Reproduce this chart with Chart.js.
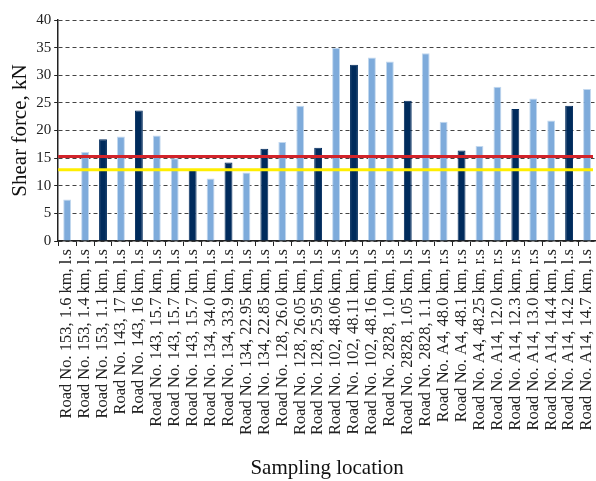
<!DOCTYPE html>
<html>
<head>
<meta charset="utf-8">
<script src="https://cdn.jsdelivr.net/npm/chart.js@4"></script>
<style>
  html, body { margin: 0; padding: 0; background: #fff; }
  #wrap { width: 596px; height: 481px; }
</style>
</head>
<body>
<div id="wrap"><canvas id="myChart"></canvas></div>
<script>
// sampling locations (x axis)
const locations = [
  'Road No. 153, 1.6 km, l.s', 'Road No. 153, 1.4 km, l.s', 'Road No. 153, 1.1 km, l.s',
  'Road No. 143, 17 km, l.s', 'Road No. 143, 16 km, l.s', 'Road No. 143, 15.7 km, l.s',
  'Road No. 143, 15.7 km, l.s', 'Road No. 143, 15.7 km, l.s', 'Road No. 134, 34.0 km, l.s',
  'Road No. 134, 33.9 km, l.s', 'Road No. 134, 22.95 km, l.s', 'Road No. 134, 22.85 km, l.s',
  'Road No. 128, 26.0 km, l.s', 'Road No. 128, 26.05 km, l.s', 'Road No. 128, 25.95 km, l.s',
  'Road No. 102, 48.06 km, l.s', 'Road No. 102, 48.11 km, l.s', 'Road No. 102, 48.16 km, l.s',
  'Road No. 2828, 1.0 km, l.s', 'Road No. 2828, 1.05 km, l.s', 'Road No. 2828, 1.1 km, l.s',
  'Road No. A4, 48.0 km, r.s', 'Road No. A4, 48.1 km, r.s', 'Road No. A4, 48.25 km, r.s',
  'Road No. A14, 12.0 km, r.s', 'Road No. A14, 12.3 km, r.s', 'Road No. A14, 13.0 km, r.s',
  'Road No. A14, 14.4 km, l.s', 'Road No. A14, 14.2 km, l.s', 'Road No. A14, 14.7 km, l.s'
];

// shear force, kN
const shearForce = [
  7.5, 16.1, 18.4, 18.9, 23.6, 19.1, 15.0, 12.9, 11.3, 14.2,
  12.4, 16.7, 17.9, 24.5, 16.9, 35.0, 31.9, 33.2, 32.5, 25.4,
  34.0, 21.6, 16.4, 17.2, 27.9, 23.9, 25.8, 21.8, 24.5, 27.5
];

// which bars are drawn dark (1) or light (0)
const barGroup = [
  0, 0, 1, 0, 1, 0, 0, 1, 0, 1,
  0, 1, 0, 0, 1, 0, 1, 0, 0, 1,
  0, 0, 1, 0, 0, 1, 0, 0, 1, 0
];

// reference levels
const redLevel = 15.3;
const yellowLevel = 12.9;

const yTicks = [0, 5, 10, 15, 20, 25, 30, 35, 40];

const serif = "'Liberation Serif', 'Times New Roman', serif";

// horizontal reference lines across the plot
const refLines = {
  id: 'refLines',
  afterDatasetsDraw(chart) {
    const ctx = chart.ctx;
    const area = chart.chartArea;
    const y = chart.scales.y;
    const draw = (val, color) => {
      const py = y.getPixelForValue(val);
      ctx.save();
      ctx.strokeStyle = color;
      ctx.lineWidth = 3;
      ctx.beginPath();
      ctx.moveTo(area.left, py);
      ctx.lineTo(area.right - 3, py);
      ctx.stroke();
      ctx.restore();
    };
    draw(yellowLevel, '#ffee00');
    draw(redLevel, '#d2232a');
  }
};

const ctx = document.getElementById('myChart');

new Chart(ctx, {
  type: 'bar',
  data: {
    labels: locations,
    datasets: [{
      data: shearForce,
      backgroundColor: barGroup.map(g => g ? '#002b5c' : '#7eabdb'),
      borderColor: barGroup.map(g => g ? '#002b5c' : '#c2d8ef'),
      borderWidth: { left: 1, right: 1, top: 1, bottom: 0 },
      barPercentage: 0.44,
      categoryPercentage: 1
    }]
  },
  options: {
    responsive: true,
    maintainAspectRatio: false,
    animation: false,
    layout: { padding: { left: 8, right: 0, top: 20, bottom: 0 } },
    plugins: {
      legend: { display: false },
      tooltip: { enabled: false }
    },
    scales: {
      y: {
        min: 0,
        max: 40,
        afterBuildTicks: axis => { axis.ticks = yTicks.map(v => ({ value: v })); },
        ticks: {
          color: '#222',
          font: { family: serif, size: 15 },
          padding: 3
        },
        grid: {
          color: '#444',
          lineWidth: 1,
          tickLength: 4,
          tickColor: '#222'
        },
        border: { display: true, color: '#222', width: 1.5, dash: [4, 3] },
        title: {
          display: true,
          text: 'Shear force, kN',
          color: '#111',
          font: { family: serif, size: 21 },
          padding: { top: 0, bottom: 0 }
        }
      },
      x: {
        afterFit: axis => {
          axis.paddingRight = 0;
          axis.paddingLeft = 0;
          axis.height = 240; // axis + labels + title below the plot
        },
        ticks: {
          color: '#222',
          font: { family: serif, size: 16.5 },
          minRotation: 90,
          maxRotation: 90,
          autoSkip: false,
          padding: 3
        },
        grid: {
          offset: true,
          drawOnChartArea: false,
          tickLength: 5,
          tickColor: '#222'
        },
        border: { display: true, color: '#222', width: 1.5 },
        title: {
          display: true,
          text: 'Sampling location',
          color: '#111',
          font: { family: serif, size: 21 },
          padding: { top: 20, bottom: 0 }
        }
      }
    }
  },
  plugins: [refLines]
});
</script>
</body>
</html>
